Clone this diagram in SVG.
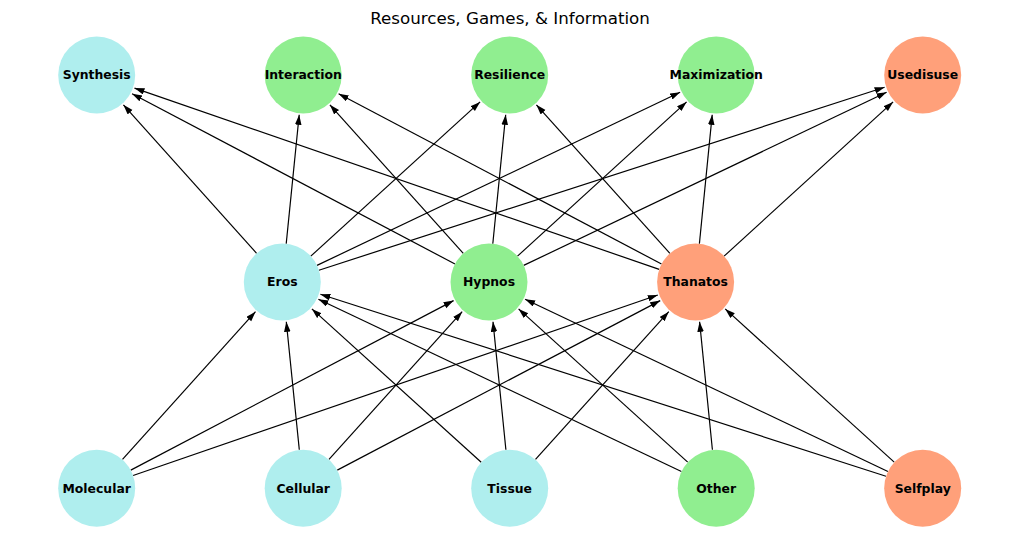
<svg xmlns="http://www.w3.org/2000/svg" width="1019" height="542" viewBox="0 0 1019 542">
<style>
.bg{fill:#ffffff}
.edge{stroke:#000;stroke-width:1.2;fill:none;marker-end:url(#ah)}
.blue{fill:#AFEEEE}
.green{fill:#90EE90}
.salmon{fill:#FFA07A}
.lbl{font-family:"DejaVu Sans",sans-serif;font-weight:bold;font-size:12.4px;text-anchor:middle;fill:#000}
.title{font-family:"DejaVu Sans",sans-serif;font-size:16.7px;text-anchor:middle;fill:#000}
</style>
<defs>
<marker id="ah" markerUnits="userSpaceOnUse" markerWidth="10" markerHeight="8" refX="10" refY="3.3" orient="auto">
<path d="M0,0 L10,3.3 L0,6.6 z" fill="#000"/>
</marker>
</defs>
<rect class="bg" x="0" y="0" width="1019" height="542"/>
<text class="title" x="510" y="24">Resources, Games, &amp; Information</text>
<g id="connectors">
<line class="edge" x1="122.5" y1="459.4" x2="255.5" y2="311.7"/>
<line class="edge" x1="130.8" y1="470.1" x2="453.6" y2="300.6"/>
<line class="edge" x1="133.1" y1="475.5" x2="657.8" y2="295.0"/>
<line class="edge" x1="299.3" y1="449.7" x2="286.3" y2="321.8"/>
<line class="edge" x1="329.0" y1="459.4" x2="462.2" y2="311.7"/>
<line class="edge" x1="337.3" y1="470.1" x2="660.2" y2="300.6"/>
<line class="edge" x1="481.2" y1="462.2" x2="311.9" y2="308.9"/>
<line class="edge" x1="505.9" y1="449.7" x2="493.0" y2="321.8"/>
<line class="edge" x1="535.5" y1="459.4" x2="668.8" y2="311.7"/>
<line class="edge" x1="681.4" y1="471.5" x2="318.4" y2="299.2"/>
<line class="edge" x1="687.7" y1="462.1" x2="518.6" y2="308.9"/>
<line class="edge" x1="712.4" y1="449.7" x2="699.6" y2="321.8"/>
<line class="edge" x1="886.0" y1="476.2" x2="320.4" y2="294.2"/>
<line class="edge" x1="887.9" y1="471.5" x2="525.1" y2="299.2"/>
<line class="edge" x1="894.2" y1="462.1" x2="725.2" y2="308.9"/>
<line class="edge" x1="256.6" y1="253.3" x2="123.4" y2="104.8"/>
<line class="edge" x1="286.2" y1="243.7" x2="299.2" y2="114.8"/>
<line class="edge" x1="310.8" y1="256.1" x2="480.1" y2="101.9"/>
<line class="edge" x1="317.0" y1="265.4" x2="680.1" y2="92.2"/>
<line class="edge" x1="318.9" y1="270.2" x2="884.6" y2="87.3"/>
<line class="edge" x1="455.0" y1="264.0" x2="132.1" y2="93.7"/>
<line class="edge" x1="463.3" y1="253.3" x2="329.9" y2="104.8"/>
<line class="edge" x1="492.8" y1="243.7" x2="505.7" y2="114.8"/>
<line class="edge" x1="517.5" y1="256.1" x2="686.6" y2="101.9"/>
<line class="edge" x1="523.7" y1="265.4" x2="886.6" y2="92.2"/>
<line class="edge" x1="659.2" y1="269.4" x2="134.5" y2="88.1"/>
<line class="edge" x1="661.5" y1="264.0" x2="338.6" y2="93.7"/>
<line class="edge" x1="669.9" y1="253.4" x2="536.4" y2="104.8"/>
<line class="edge" x1="699.4" y1="243.7" x2="712.2" y2="114.8"/>
<line class="edge" x1="724.1" y1="256.1" x2="893.1" y2="101.9"/>
</g>
<g id="synthesis"><circle class="blue" cx="96.7" cy="75" r="38.5"/><text class="lbl" x="96.7" y="79.4">Synthesis</text></g>
<g id="interaction"><circle class="green" cx="303.2" cy="75" r="38.5"/><text class="lbl" x="303.2" y="79.4">Interaction</text></g>
<g id="resilience"><circle class="green" cx="509.7" cy="75" r="38.5"/><text class="lbl" x="509.7" y="79.4">Resilience</text></g>
<g id="maximization"><circle class="green" cx="716.2" cy="75" r="38.5"/><text class="lbl" x="716.2" y="79.4">Maximization</text></g>
<g id="usedisuse"><circle class="salmon" cx="922.7" cy="75" r="38.5"/><text class="lbl" x="922.7" y="79.4">Usedisuse</text></g>
<g id="eros"><circle class="blue" cx="282.3" cy="282" r="38.5"/><text class="lbl" x="282.3" y="286.4">Eros</text></g>
<g id="hypnos"><circle class="green" cx="489" cy="282" r="38.5"/><text class="lbl" x="489" y="286.4">Hypnos</text></g>
<g id="thanatos"><circle class="salmon" cx="695.6" cy="282" r="38.5"/><text class="lbl" x="695.6" y="286.4">Thanatos</text></g>
<g id="molecular"><circle class="blue" cx="96.7" cy="488.3" r="38.5"/><text class="lbl" x="96.7" y="492.7">Molecular</text></g>
<g id="cellular"><circle class="blue" cx="303.2" cy="488.3" r="38.5"/><text class="lbl" x="303.2" y="492.7">Cellular</text></g>
<g id="tissue"><circle class="blue" cx="509.7" cy="488.3" r="38.5"/><text class="lbl" x="509.7" y="492.7">Tissue</text></g>
<g id="other"><circle class="green" cx="716.2" cy="488.3" r="38.5"/><text class="lbl" x="716.2" y="492.7">Other</text></g>
<g id="selfplay"><circle class="salmon" cx="922.7" cy="488.3" r="38.5"/><text class="lbl" x="922.7" y="492.7">Selfplay</text></g>
</svg>
